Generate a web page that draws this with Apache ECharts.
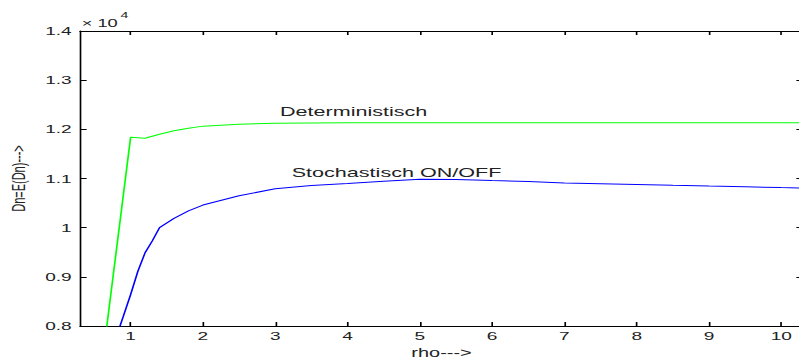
<!DOCTYPE html>
<html>
<head>
<meta charset="utf-8">
<script src="https://cdn.jsdelivr.net/npm/echarts@6/dist/echarts.min.js"></script>
<style>
  html, body { margin: 0; padding: 0; width: 799px; height: 358px; overflow: hidden; background: #fff; }
  /* the reference is a horizontally stretched figure, so draw narrow and stretch */
  #chart { width: 490px; height: 358px; transform: scaleX(1.66); transform-origin: 0 0; }
</style>
</head>
<body>
<div id="chart"></div>
<script>
const SX = 1.66

// Deterministisch
const rhoDet = [0.5, 1.0, 1.2, 1.4, 1.6, 1.8, 2.0, 2.5, 3, 3.5, 4, 5, 6, 7, 8, 9, 10, 10.5]
const dnDet = [6000, 11840, 11820, 11900, 11970, 12020, 12065, 12104, 12123, 12131, 12134, 12136,
  12136, 12136, 12136, 12136, 12136, 12136]

// Stochastisch ON/OFF
const rhoSto = [0.8, 0.9, 1.0, 1.1, 1.2, 1.3, 1.4, 1.6, 1.8, 2.0, 2.5, 3, 3.5, 4, 4.5, 5, 5.5,
  6, 6.5, 7, 7.5, 8, 8.5, 9, 9.5, 10, 10.5]
const dnSto = [7770, 8200, 8640, 9110, 9490, 9730, 10000, 10190, 10340, 10460, 10650, 10790, 10860,
  10900, 10945, 10985, 10982, 10960, 10940, 10910, 10895, 10880, 10862, 10846, 10831, 10815, 10800]

const xTicks = [1, 2, 3, 4, 5, 6, 7, 8, 9, 10]

const font = '"Liberation Sans", Arial, sans-serif'
const ink = '#222'

const chart = echarts.init(document.getElementById('chart'), null, { renderer: 'svg' })

const pair = (xs, ys) => xs.map((x, i) => [x, ys[i]])

chart.setOption({
  animation: false,
  backgroundColor: '#fff',
  grid: { left: 80 / SX, top: 31, width: 723 / SX, height: 295, containLabel: false, outerBoundsMode: 'none' },
  xAxis: [
    {
      type: 'value', min: 0.3, max: 10.3,
      name: 'rho--->', nameLocation: 'middle', nameGap: 20,
      nameTextStyle: { fontFamily: font, fontSize: 12, color: ink },
      axisLine: { lineStyle: { color: '#000', width: 1 } },
      axisTick: { inside: true, length: 4, customValues: xTicks, lineStyle: { color: '#000' } },
      axisLabel: { customValues: xTicks, margin: 4, fontFamily: font, fontSize: 11.5, color: ink },
      splitLine: { show: false },
    },
    {
      type: 'value', position: 'top', min: 0.3, max: 10.3,
      axisLine: { lineStyle: { color: '#000', width: 1 } },
      axisTick: { inside: true, length: 4, customValues: xTicks, lineStyle: { color: '#000' } },
      axisLabel: { show: false },
      splitLine: { show: false },
    },
  ],
  yAxis: [
    {
      type: 'value', min: 8000, max: 14000, interval: 1000,
      name: 'Dn=E(Dn)--->', nameLocation: 'middle', nameGap: 30,
      nameTextStyle: { fontFamily: font, fontSize: 11, color: ink },
      axisLine: { show: true, lineStyle: { color: '#000', width: 1 } },
      axisTick: { show: true, inside: true, length: 4, lineStyle: { color: '#000' } },
      axisLabel: {
        margin: 5, fontFamily: font, fontSize: 11.5, color: ink,
        formatter: (v) => String(+(v / 10000).toFixed(1)),
      },
      splitLine: { show: false },
    },
    {
      type: 'value', position: 'right', min: 8000, max: 14000, interval: 1000,
      axisLine: { show: true, lineStyle: { color: '#000', width: 1 } },
      axisTick: { show: true, inside: true, length: 4, lineStyle: { color: '#000' } },
      axisLabel: { show: false },
      splitLine: { show: false },
    },
  ],
  series: [
    {
      name: 'Deterministisch', type: 'line', showSymbol: false,
      lineStyle: { color: '#00ff00', width: 1 },
      data: pair(rhoDet, dnDet),
    },
    {
      name: 'Stochastisch ON/OFF', type: 'line', showSymbol: false,
      lineStyle: { color: '#0000ff', width: 1 },
      data: pair(rhoSto, dnSto),
    },
  ],
  graphic: [
    { type: 'text', x: 81.7 / SX, y: 22.5,
      style: { text: '× 10', font: '11px ' + font, fill: ink, textVerticalAlign: 'middle' } },
    { type: 'text', x: 120.5 / SX, y: 15,
      style: { text: '4', font: '8.5px ' + font, fill: ink, textVerticalAlign: 'middle' } },
    { type: 'text', x: 280 / SX, y: 112,
      style: { text: 'Deterministisch', font: '13px ' + font, fill: ink, textVerticalAlign: 'middle' } },
    { type: 'text', x: 291.7 / SX, y: 173,
      style: { text: 'Stochastisch ON/OFF', font: '13px ' + font, fill: ink, textVerticalAlign: 'middle' } },
  ],
})
</script>
</body>
</html>
